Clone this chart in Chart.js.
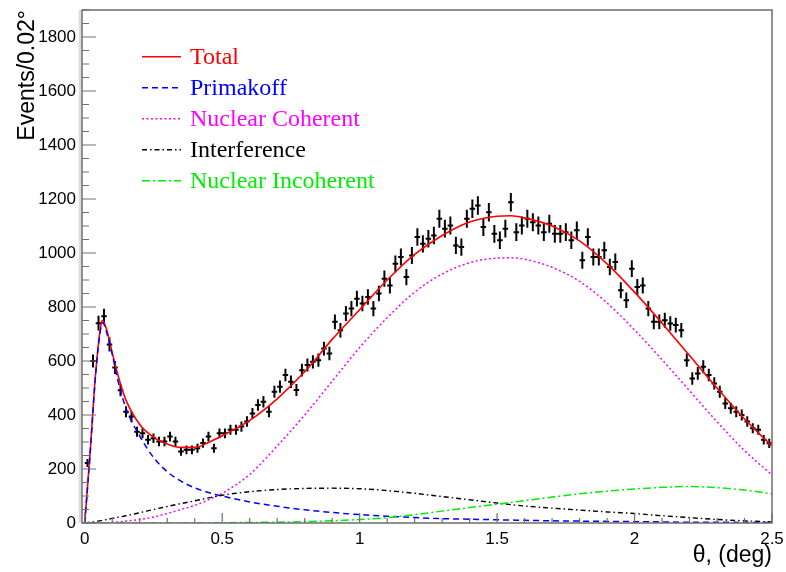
<!DOCTYPE html>
<html><head><meta charset="utf-8">
<script src="https://cdn.jsdelivr.net/npm/chart.js@4.4.0/dist/chart.umd.min.js"></script>
<style>html,body{margin:0;padding:0;background:#fff;}#wrap{width:786px;height:572px;}</style>
</head><body><div id="wrap"><canvas id="c" width="786" height="572"></canvas></div>
<script>
// ---- data ----
const binWidth = 0.02;
const counts = [
  222, 600, 740, 766, 661, 576, 492, 412, 394, 338,
  332, 308, 314, 302, 302, 320, 302, 265, 271, 271,
  277, 296, 320, 277, 332,
  332, 345, 345, 357, 376, 406, 437, 449, 412, 486,
  505, 548, 523, 493, 566, 585, 597, 603, 646, 628,
  745, 714, 776, 794, 831, 813, 837, 794, 850, 905,
  880, 960, 985, 911, 991, 1059, 1034, 1053, 1065, 1127,
  1090, 1102, 1028, 1022, 1127, 1164, 1176, 1096, 1151, 1071,
  1047, 1090, 1188, 1077, 1102, 1127, 1114, 1102, 1077, 1108,
  1071, 1071, 1077, 1047, 1084, 973, 1059, 985, 985, 1010,
  948, 967, 862, 825, 942, 874, 880, 794, 745, 745,
  751, 739, 733, 714, 603, 535, 554, 579, 548, 517,
  486, 443, 425, 412, 400, 376, 351, 345, 308, 295
];
const binCenters = counts.map((_, i) => +(binWidth / 2 + i * binWidth).toFixed(3));

const curveX = [0, 0.02, 0.04, 0.06, 0.065, 0.08, 0.1, 0.12, 0.15, 0.2, 0.25, 0.3, 0.35, 0.4, 0.45, 0.5,
  0.6, 0.7, 0.8, 0.9, 1.0, 1.1, 1.2, 1.3, 1.4, 1.5, 1.55, 1.6, 1.7, 1.8, 1.9, 2.0, 2.1, 2.2, 2.3, 2.4, 2.5];
const total = [0, 270, 560, 740, 750, 715, 630, 550, 455, 365, 318, 293, 280, 280, 298, 323,
  380, 460, 560, 680, 790, 900, 995, 1065, 1115, 1136, 1138, 1130, 1100, 1045, 960, 855, 740, 620, 500, 385, 285];
const primakoff = [0, 262, 555, 732, 742, 705, 625, 530, 425, 322, 243, 190, 155, 130, 113, 100,
  78, 62, 49, 39, 31, 25, 20, 16, 14, 12, 11, 10, 8, 7, 6, 5, 4, 3, 3, 2, 2];
const nuclearCoherent = [0, 0, 0, 0, 0, 1, 2, 4, 7, 13, 22, 35, 50, 65, 86, 110,
  180, 285, 400, 525, 650, 760, 855, 922, 964, 981, 982, 977, 947, 895, 815, 715, 605, 490, 375, 268, 178];
const interference = [0, 3, 6, 9, 10, 13, 17, 21, 27, 38, 50, 61, 72, 82, 93, 103,
  116, 124, 128, 129, 127, 120, 110, 98, 86, 74, 68, 63, 55, 48, 41, 35, 27, 20, 13, 8, 4];
const nuclearIncoherent = [0, 0, 0, 0, 0, 0, 0, 0, 0, 0, 0, 0, 0, 0, 0, 1,
  2, 3, 5, 8, 13, 20, 31, 44, 57, 70, 76, 83, 96, 108, 118, 126, 132, 135, 131, 122, 108];

const xTicks = [0, 0.5, 1, 1.5, 2, 2.5];
const yTicks = [0, 200, 400, 600, 800, 1000, 1200, 1400, 1600, 1800];
const xTitle = 'θ, (deg)';
const yTitle = 'Events/0.02°';

const series = [
  { label: 'Total', values: total, color: '#ff0000', dash: [], width: 1.6 },
  { label: 'Primakoff', values: primakoff, color: '#0000ff', dash: [6, 4], width: 1.5 },
  { label: 'Nuclear Coherent', values: nuclearCoherent, color: '#ff00ff', dash: [2, 2.5], width: 1.5 },
  { label: 'Interference', values: interference, color: '#000000', dash: [5, 3, 1.5, 3], width: 1.4 },
  { label: 'Nuclear Incoherent', values: nuclearIncoherent, color: '#00ee00', dash: [8, 3, 2, 3], width: 1.5 }
];

const toXY = (xs, ys) => xs.map((v, i) => ({ x: v, y: ys[i] }));

const datasets = [{
  label: 'data', type: 'scatter', data: toXY(binCenters, counts),
  pointRadius: 0, showLine: false, borderColor: '#000', order: 10
}].concat(series.map((s, i) => ({
  label: s.label, type: 'line', data: toXY(curveX, s.values),
  borderColor: s.color, borderDash: s.dash, borderWidth: s.width,
  pointRadius: 0, fill: false, cubicInterpolationMode: 'monotone', order: 5 - i
})));

const rootPlugin = {
  id: 'rootStyle',
  beforeDatasetsDraw(chart) {
    const { ctx, scales: { x, y }, chartArea: a } = chart;
    ctx.save();
    ctx.beginPath(); ctx.rect(a.left, a.top, a.right - a.left, a.bottom - a.top); ctx.clip();
    ctx.strokeStyle = '#000'; ctx.lineWidth = 2;
    ctx.beginPath();
    counts.forEach((n, i) => {
      const xc = binCenters[i], e = Math.sqrt(n);
      const px = x.getPixelForValue(xc), py = y.getPixelForValue(n);
      ctx.moveTo(x.getPixelForValue(xc - binWidth / 2), py);
      ctx.lineTo(x.getPixelForValue(xc + binWidth / 2), py);
      ctx.moveTo(px, y.getPixelForValue(n - e));
      ctx.lineTo(px, y.getPixelForValue(n + e));
    });
    ctx.stroke();
    ctx.restore();
  },
  afterDraw(chart) {
    const { ctx, scales: { x, y }, chartArea: a } = chart;
    ctx.save();
    ctx.strokeStyle = '#dcdcdc'; ctx.lineWidth = 2.5;
    ctx.beginPath(); ctx.moveTo(a.left - 2, a.top); ctx.lineTo(a.left - 2, a.bottom); ctx.stroke();
    ctx.strokeStyle = '#6e6e6e'; ctx.lineWidth = 1.5;
    ctx.strokeRect(a.left, a.top, a.right - a.left, a.bottom - a.top);
    ctx.lineWidth = 1.2; ctx.strokeStyle = '#707070';
    ctx.beginPath();
    for (let v = 0; v <= 1900; v += 50) {
      const py = y.getPixelForValue(v);
      const len = (v % 200 === 0) ? 14 : 7;
      ctx.moveTo(a.left, py); ctx.lineTo(a.left + len, py);
    }
    for (let k = 0; k <= 25; k++) {
      const v = k / 10;
      const px = x.getPixelForValue(v);
      const len = (k % 5 === 0) ? 10 : 5;
      ctx.moveTo(px, a.bottom); ctx.lineTo(px, a.bottom - len);
    }
    ctx.stroke();
    const lx0 = 142, lx1 = 181, tx = 190, ly0 = 56.7, dy = 31;
    ctx.font = '24px "Liberation Serif", "Times New Roman", serif';
    ctx.textBaseline = 'alphabetic'; ctx.textAlign = 'left';
    series.forEach((s, i) => {
      const ly = ly0 + i * dy;
      ctx.strokeStyle = s.color; ctx.lineWidth = s.width; ctx.setLineDash(s.dash);
      ctx.beginPath(); ctx.moveTo(lx0, ly); ctx.lineTo(lx1, ly); ctx.stroke();
      ctx.setLineDash([]);
      ctx.fillStyle = s.color;
      ctx.fillText(s.label, tx, ly + 7.6);
    });
    ctx.restore();
  }
};

new Chart(document.getElementById('c'), {
  type: 'line',
  data: { datasets },
  plugins: [rootPlugin],
  options: {
    responsive: false, animation: false, events: [],
    layout: { padding: { left: 0, right: 14, top: 10, bottom: 0 } },
    plugins: { legend: { display: false }, tooltip: { enabled: false } },
    scales: {
      x: {
        type: 'linear', min: -0.01, max: 2.5,
        grid: { display: false, drawTicks: false }, border: { display: false },
        afterBuildTicks: s => { s.ticks = xTicks.map(v => ({ value: v })); },
        afterFit: s => { s.height = 49; s.paddingLeft = 0; s.paddingRight = 0; },
        ticks: { autoSkip: false, maxRotation: 0, padding: 6, color: '#000',
          font: { family: '"Liberation Sans", Arial, sans-serif', size: 17 },
          callback: v => String(v) },
        title: { display: true, text: xTitle, align: 'end', color: '#000',
          font: { family: '"Liberation Sans", Arial, sans-serif', size: 23 }, padding: { top: 0, bottom: 3 } }
      },
      y: {
        type: 'linear', min: 0, max: 1900,
        grid: { display: false, drawTicks: false }, border: { display: false },
        afterBuildTicks: s => { s.ticks = yTicks.map(v => ({ value: v })); },
        afterFit: s => { s.width = 82; s.paddingTop = 0; s.paddingBottom = 0; },
        ticks: { autoSkip: false, padding: 6, color: '#000',
          font: { family: '"Liberation Sans", Arial, sans-serif', size: 17 },
          callback: v => String(v) },
        title: { display: true, text: yTitle, align: 'end', color: '#000',
          font: { family: '"Liberation Sans", Arial, sans-serif', size: 23 }, padding: { top: 14, bottom: 0 } }
      }
    }
  }
});
</script>
</body></html>
